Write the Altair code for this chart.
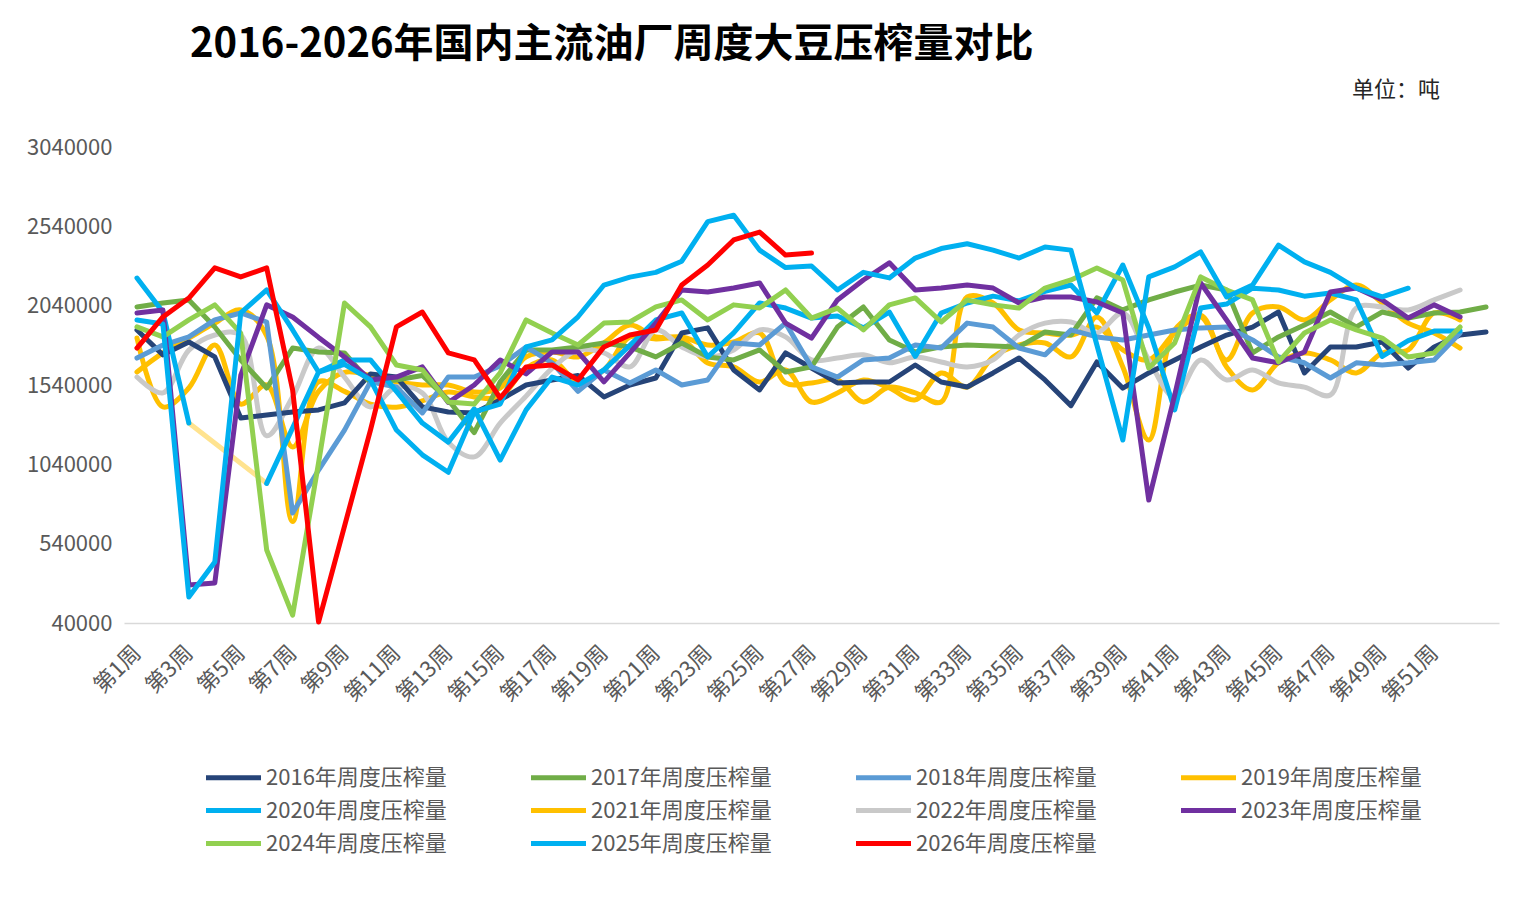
import altair as alt
import pandas as pd

weeks = [f"第{i}周" for i in range(1, 54)]
week_ticks = [f"第{i}周" for i in range(1, 52, 2)]
y_ticks = [40000, 540000, 1040000, 1540000, 2040000, 2540000, 3040000]

title_text = "2016-2026年国内主流油厂周度大豆压榨量对比"
unit_text = "单位：吨"

series_names = [
    "2016年周度压榨量", "2017年周度压榨量", "2018年周度压榨量", "2019年周度压榨量",
    "2020年周度压榨量", "2021年周度压榨量", "2022年周度压榨量", "2023年周度压榨量",
    "2024年周度压榨量", "2025年周度压榨量", "2026年周度压榨量",
]
colors = ["#264478", "#70AD47", "#5B9BD5", "#FFC000", "#00B0F0", "#FFC000",
          "#C9C9C9", "#7030A0", "#92D050", "#00B0F0", "#FF0000"]
smooth_names = ["2019年周度压榨量", "2021年周度压榨量", "2022年周度压榨量"]

# values in thousand tonnes
s2016 = [1887, 1730, 1811, 1717, 1332, 1351, 1370, 1383, 1427, 1610, 1590, 1402, 1370, 1364,
         1446, 1540, 1572, 1600, 1465, 1540, 1584, 1868, 1900, 1635, 1509, 1742, 1647, 1553,
         1559, 1559, 1666, 1559, 1527, 1616, 1710, 1572, 1410, 1685, 1520, 1616, 1698, 1780,
         1855, 1905, 2000, 1616, 1780, 1780, 1811, 1647, 1780, 1855, 1874]
s2017 = [2032, 2057, 2076, 1906, 1698, 1521, 1773, 1748, 1742, 1553, 1572, 1600, 1446, 1240,
         1560, 1760, 1760, 1780, 1805, 1780, 1717, 1805, 1717, 1698, 1761, 1622, 1654, 1905,
         2032, 1824, 1748, 1780, 1792, 1786, 1780, 1874, 1855, 2089, 2013, 2076, 2126, 2170,
         2139, 1742, 1843, 1918, 2000, 1906, 2000, 1962, 1994, 2000, 2032]
s2018 = [1710, 1792, 1843, 1950, 1994, 1937, 733, 1004, 1256, 1560, 1527, 1364, 1590, 1590,
         1660, 1780, 1680, 1500, 1635, 1553, 1635, 1540, 1572, 1805, 1792, 1930, 1654, 1590,
         1698, 1710, 1792, 1773, 1930, 1905, 1773, 1730, 1887, 1843, 1824, 1855, 1887, 1900,
         1905, 1824, 1717, 1680, 1584, 1680, 1666, 1680, 1698, 1868]
s2019 = [1836, 1402, 1521, 1792, 1420, 1540, 1150, 1500, 1620, 1600, 1560, 1540, 1540, 1496,
         1521, 1717, 1748, 1717, 1805, 1918, 1843, 1843, 1792, 1811, 1868, 1553, 1553, 1572,
         1433, 1527, 1490, 1433, 2095, 2057, 1887, 1868, 1855, 1905, 1761, 1698, 1868, 1969,
         1698, 1994, 2032, 1950, 2076, 2170, 2057, 1930, 1868, 1773]
s2020 = [2214, 2000, 1300, None, None, 920, 1270, 1622, 1698, 1698, 1500, 1300, 1180, 1390,
         1067, 1383, 1590, 1540, 1635, 1790, 1950, 1994, 1717, 1868, 2057, 2025, 1962, 1975,
         1900, 2000, 1720, 1994, 2057, 2100, 2070, 2130, 2170, 1994, 2296, 1900, 1383, 2025,
         2050, 2150, 2139, 2100, 2120, 2076, 1720, 1820, 1880, 1880]
s2021 = [1622, 1742, 1836, 1930, 2013, 1850, 680, 1560, 1500, 1420, 1400, 1440, 1496, 1465,
         1465, 1647, 1698, 1560, 1635, 1843, 1830, 1830, 1679, 1654, 1559, 1635, 1433, 1490,
         1572, 1521, 1446, 1616, 1527, 1717, 1792, 1805, 1717, 1969, 1654, 1193, 1887, 1980,
         1654, 1509, 1680, 1742, 1698, 1616, 1742, 1761, 1994, 1950]
s2022 = [1590, 1490, 1760, 1855, 1855, 1220, 1465, 1773, 1590, 1402, 1527, 1490, 1180, 1087,
         1300, 1470, 1645, 1760, 1742, 1654, 1887, 1780, 1717, 1761, 1887, 1843, 1698, 1710,
         1730, 1680, 1717, 1685, 1654, 1698, 1855, 1930, 1937, 1868, 1994, 1698, 1464, 1698,
         1572, 1635, 1553, 1527, 1477, 2025, 2032, 2013, 2076, 2139]
s2023 = [1994, 2013, 280, 292, 1600, 2045, 1969, 1840, 1717, 1572, 1590, 1654, 1430, 1540,
         1698, 1610, 1748, 1748, 1560, 1742, 1930, 2139, 2126, 2151, 2183, 1930, 1836, 2076,
         2202, 2310, 2139, 2151, 2170, 2151, 2057, 2095, 2095, 2063, 1994, 815, 1477, 2183,
         1950, 1710, 1680, 1748, 2126, 2151, 2076, 1962, 2045, 1969]
s2024 = [1906, 1843, 1950, 2045, 1867, 500, 90, 1050, 2057, 1906, 1666, 1635, 1433, 1420,
         1616, 1950, 1868, 1792, 1930, 1937, 2032, 2076, 1950, 2045, 2025, 2139, 1962, 2025,
         1887, 2045, 2089, 1937, 2076, 2045, 2025, 2151, 2202, 2277, 2202, 1647, 1805, 2221,
         2139, 2076, 1686, 1868, 1950, 1887, 1836, 1717, 1742, 1906]
s2025 = [1950, 1925, 204, 424, 1994, 2139, 1887, 1622, 1670, 1572, 1256, 1100, 990, 1370,
         1420, 1780, 1824, 1970, 2170, 2220, 2250, 2320, 2570, 2610, 2390, 2280, 2290, 2139,
         2250, 2215, 2340, 2400, 2430, 2390, 2340, 2410, 2390, 1792, 1193, 2221, 2284, 2379,
         2095, 2170, 2422, 2316, 2250, 2150, 2095, 2150]
s2026 = [1773, 1969, 2088, 2278, 2221, 2278, 1509, 46, 651, 1256, 1906, 2000, 1742, 1698,
         1458, 1654, 1666, 1572, 1780, 1855, 1887, 2170, 2296, 2454, 2504, 2359, 2372]

all_series = [s2016, s2017, s2018, s2019, s2020, s2021, s2022, s2023, s2024, s2025, s2026]

# faded connector drawn across the 2020 gap (week 3 -> week 6)
gap_weeks = ["第3周", "第6周"]
gap_values = [1300, 920]

rows = []
for name, vals in zip(series_names, all_series):
    seg = 0
    for i, v in enumerate(vals):
        if v is None:
            seg += 1
            continue
        rows.append({"week": weeks[i], "idx": i, "value": v * 1000, "series": name,
                     "seg": seg})
df = pd.DataFrame(rows)
gap_df = pd.DataFrame({"week": gap_weeks, "idx": [2, 5],
                       "value": [v * 1000 for v in gap_values]})

FONT = "Noto Sans CJK SC"
GREY = "#595959"

x_enc = alt.X(
    "week:O", sort=weeks,
    scale=alt.Scale(domain=weeks, padding=0.5),
    axis=alt.Axis(values=week_ticks, title=None, ticks=False, grid=False,
                  domainColor="#D9D9D9", domainWidth=1.5, labelAngle=315,
                  labelAlign="right", labelBaseline="middle", labelPadding=26,
                  labelFontSize=22, labelColor=GREY, labelFont=FONT),
)
y_enc = alt.Y(
    "value:Q",
    scale=alt.Scale(domain=[40000, 3040000], nice=False, zero=False),
    axis=alt.Axis(values=y_ticks, title=None, grid=False, domain=False, ticks=False,
                  format="d", labelFontSize=22, labelColor=GREY, labelFont=FONT,
                  labelPadding=12),
)
color_enc = alt.Color(
    "series:N",
    scale=alt.Scale(domain=series_names, range=colors),
    legend=alt.Legend(orient="none", legendX=96, legendY=617, columns=4,
                      direction="horizontal", title=None,
                      symbolType="M-2.5,0H2.5", symbolSize=484, symbolStrokeWidth=5,
                      labelFontSize=22, labelColor=GREY, labelFont=FONT,
                      labelOffset=19, labelLimit=400, columnPadding=74,
                      rowPadding=8, padding=0),
)

gap_layer = alt.Chart(gap_df).mark_line(
    color="#FFE38F", strokeWidth=5, strokeCap="round"
).encode(x=alt.X("week:O", sort=weeks), y="value:Q", order="idx:Q")

smooth_layer = alt.Chart(df).transform_filter(
    alt.FieldOneOfPredicate(field="series", oneOf=smooth_names)
).mark_line(interpolate="catmull-rom", strokeWidth=5, strokeCap="round",
            strokeJoin="round").encode(
    x=x_enc, y=y_enc, color=color_enc, detail="seg:N", order="idx:Q")

straight_layer = alt.Chart(df).transform_filter(
    ~alt.FieldOneOfPredicate(field="series", oneOf=smooth_names)
).mark_line(strokeWidth=5, strokeCap="round", strokeJoin="round").encode(
    x=x_enc, y=y_enc, color=color_enc, detail="seg:N", order="idx:Q")

unit_layer = alt.Chart(pd.DataFrame({"t": [unit_text]})).mark_text(
    align="right", baseline="middle", fontSize=22, font=FONT, color="#262626"
).encode(text="t:N", x=alt.value(1316), y=alt.value(-57))

title_layer = alt.Chart(pd.DataFrame({"t": [title_text]})).mark_text(
    align="left", baseline="middle", fontSize=40, font=FONT, fontWeight="bold",
    color="#000000"
).encode(text="t:N", x=alt.value(66), y=alt.value(-102))

chart = alt.layer(gap_layer, smooth_layer, straight_layer, unit_layer, title_layer).properties(
    width=1375, height=476,
    autosize=alt.AutoSizeParams(type="none"),
    padding={"left": 116, "top": 139, "right": 15, "bottom": 265},
    background="white",
).configure_view(stroke=None)

chart.save("out.html", embed_options={"renderer": "svg", "actions": False})
